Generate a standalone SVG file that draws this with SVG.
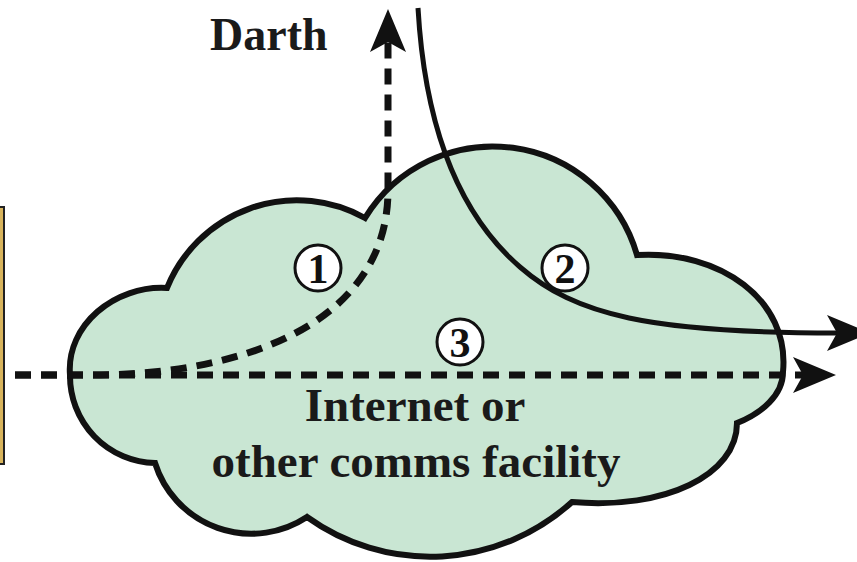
<svg xmlns="http://www.w3.org/2000/svg" width="857" height="562" viewBox="0 0 857 562">
<style>
.txt{font-family:"Liberation Serif","Times New Roman",serif;font-weight:bold;fill:#1a1a1a}
.line{fill:none;stroke:#111;stroke-width:5}
.dash{fill:none;stroke:#111;stroke-width:7;stroke-dasharray:16 10}
.num circle{fill:#fff;stroke:#111;stroke-width:3}
.num text{font-family:"Liberation Serif","Times New Roman",serif;font-weight:bold;font-size:42px;fill:#111;text-anchor:middle}
</style>
<defs>
<marker id="arr" markerUnits="userSpaceOnUse" viewBox="-12 -20 48 40" markerWidth="48" markerHeight="40" refX="0" refY="0" orient="auto">
<path d="M33,0 L-10,-18 L0,0 L-10,18 Z" fill="#111"/>
</marker>
</defs>
<rect width="857" height="562" fill="#fff"/>
<g id="host">
<rect x="-5" y="207" width="9" height="257" fill="#d8b45c" stroke="#222" stroke-width="2"/>
</g>
<g id="cloud">
<path d="M70,375 C66,325 115,285 167,288 A140,140 0 0 1 365,218 A150,150 0 0 1 637,255 C720,250 790,300 783,372 C783,395 762,413 737,423 C737,475 665,510 572,502 A211,211 0 0 1 307,517 A101,101 0 0 1 155,463 A87,87 0 0 1 70,375 Z" fill="#c9e6d3" stroke="#111" stroke-width="6" stroke-linejoin="miter"/>
<text class="txt" x="415" y="421" font-size="47" text-anchor="middle">Internet or</text>
<text class="txt" x="416" y="477" font-size="47" text-anchor="middle">other comms facility</text>
</g>
<g id="darth">
<text class="txt" x="210" y="50" font-size="46">Darth</text>
</g>
<g id="connectors">
<path class="dash" d="M15,375 L803,375" marker-end="url(#arr)"/>
<path class="dash" d="M15,375 L100,375 C250,373 388,320 388,190 L388,42" marker-end="url(#arr)"/>
<path class="line" d="M418,8 C425,130 460,215 520,267 C575,315 650,333 837,333" marker-end="url(#arr)"/>
</g>
<g id="labels">
<g class="num"><circle cx="318" cy="268" r="23"/><text x="318" y="283">1</text></g>
<g class="num"><circle cx="565" cy="268" r="23"/><text x="565" y="283">2</text></g>
<g class="num"><circle cx="460" cy="342" r="23"/><text x="460" y="357">3</text></g>
</g>
</svg>
